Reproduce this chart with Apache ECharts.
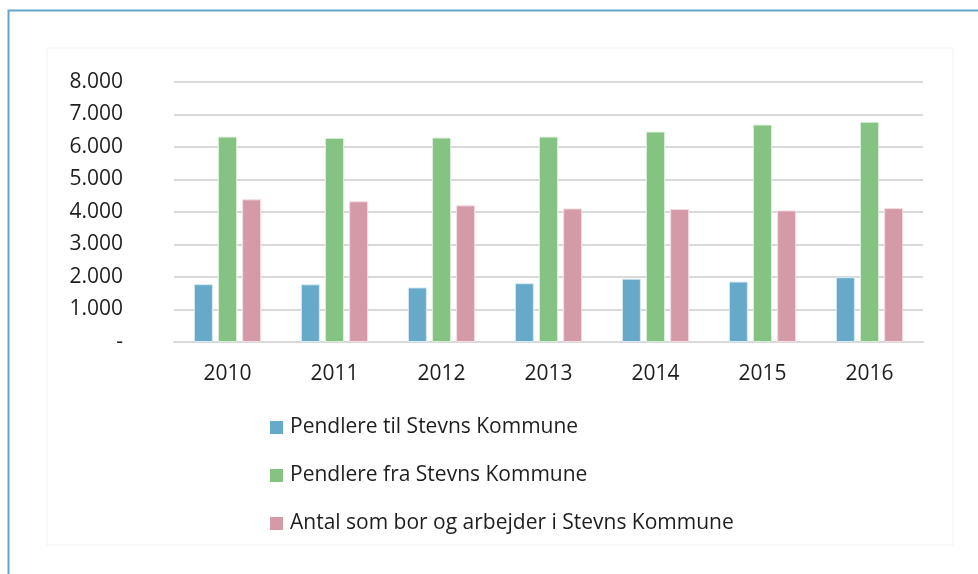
<!DOCTYPE html>
<html>
<head>
<meta charset="utf-8">
<script src="https://cdn.jsdelivr.net/npm/echarts@6/dist/echarts.min.js"></script>
<style>
html, body { margin: 0; padding: 0; background: #fff; }
#chart { width: 978px; height: 574px; }
</style>
</head>
<body>
<div id="chart"></div>
<script>
// år
var years = ['2010', '2011', '2012', '2013', '2014', '2015', '2016'];
// pendlere ind i kommunen
var pendlereTil = [1780, 1775, 1680, 1810, 1950, 1860, 1995];
// pendlere ud af kommunen
var pendlereFra = [6320, 6280, 6290, 6320, 6475, 6690, 6775];
// bor og arbejder i kommunen
var borOgArbejder = [4390, 4330, 4205, 4110, 4090, 4050, 4120];
var seriesNames = ['Pendlere til Stevns Kommune', 'Pendlere fra Stevns Kommune', 'Antal som bor og arbejder i Stevns Kommune'];
var colors = ['#67a9c9', '#85c383', '#d49aa8'];

var myChart = echarts.init(document.getElementById('chart'));

function fmt(v) {
    if (v === 0) return '-';
    return String(v).replace(/\B(?=(\d{3})+(?!\d))/g, '.');
}

var option = {
    animation: false,
    color: colors,
    textStyle: { fontFamily: 'Open Sans' },
    graphic: [
        { type: 'rect', shape: { x: 47, y: 48, width: 906, height: 497 }, style: { fill: 'none', stroke: '#f3f3f3', lineWidth: 1 } },
        { type: 'polyline', shape: { points: [[8.5, 574], [8.5, 10.5], [978, 10.5]] }, style: { fill: 'none', stroke: '#62a7c9', lineWidth: 2 } }
    ],
    grid: { left: 174, right: 55, top: 82, bottom: 232 },
    legend: {
        orient: 'vertical',
        left: 270,
        top: 417,
        padding: 0,
        itemWidth: 13,
        itemHeight: 13,
        itemGap: 27,
        icon: 'rect',
        itemStyle: { borderWidth: 0 },
        textStyle: { fontSize: 21, color: '#1e1e1e', fontFamily: 'Open Sans', padding: [0, 0, 0, 2] },
        data: seriesNames
    },
    xAxis: {
        type: 'category',
        data: years,
        axisLine: { lineStyle: { color: '#d9d9d9', width: 2 } },
        axisTick: { show: false },
        axisLabel: { fontSize: 21, color: '#1e1e1e', margin: 22 }
    },
    yAxis: {
        type: 'value',
        min: 0,
        max: 8000,
        interval: 1000,
        axisLine: { show: false },
        axisTick: { show: false },
        splitLine: { lineStyle: { color: '#d9d9d9', width: 2 } },
        axisLabel: { fontSize: 21, color: '#1e1e1e', margin: 51, formatter: fmt }
    },
    series: [
        {
            name: seriesNames[0], type: 'bar', barWidth: 19, barGap: '27%',
            itemStyle: { color: colors[0], borderColor: '#d6ebf3', borderWidth: 1 },
            data: pendlereTil
        },
        {
            name: seriesNames[1], type: 'bar', barWidth: 19, barGap: '27%',
            itemStyle: { color: colors[1], borderColor: '#d9eed8', borderWidth: 1 },
            data: pendlereFra
        },
        {
            name: seriesNames[2], type: 'bar', barWidth: 19, barGap: '27%',
            itemStyle: { color: colors[2], borderColor: '#f3dde3', borderWidth: 1 },
            data: borOgArbejder
        }
    ]
};
myChart.setOption(option);
</script>
</body>
</html>
